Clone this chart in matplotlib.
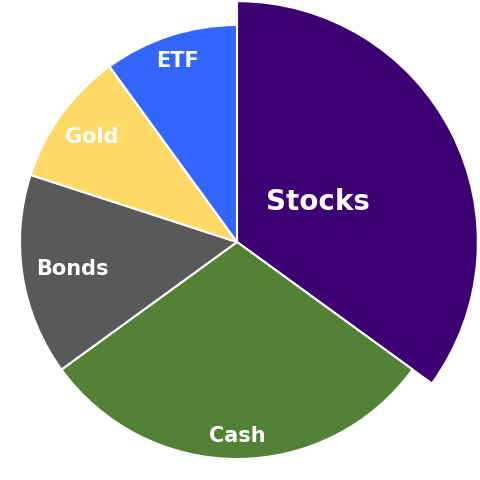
import numpy as np
import matplotlib.pyplot as plt

# Portfolio allocation (percent)
assets = ['Stocks', 'Cash', 'Bonds', 'Gold', 'ETF']
shares = [35, 30, 15, 10, 10]
colors = ['#3d0072', '#538135', '#595959', '#ffd966', '#3366ff']
label_dist = [0.42, 0.89, 0.77, 0.83, 0.88]
label_size = [20, 15, 15, 15, 15]

fig = plt.figure(figsize=(4.8, 4.81), dpi=100)
ax = fig.add_axes([0, 0, 1, 1])

wedges, _ = ax.pie(shares, colors=colors, startangle=90, counterclock=False,
                   radius=1.0, wedgeprops=dict(edgecolor='white', linewidth=1.5))
# the largest slice is drawn with a bigger radius
wedges[0].set_radius(1.11)

for w, name, d, fs in zip(wedges, assets, label_dist, label_size):
    mid = np.deg2rad((w.theta1 + w.theta2) / 2)
    ax.text(d * np.cos(mid), d * np.sin(mid), name, ha='center', va='center',
            color='white', fontsize=fs, fontweight='bold', family='DejaVu Sans')

ax.set_xlim(-237 / 217, 243 / 217)
ax.set_ylim(-238 / 217, 243 / 217)
ax.set_aspect('auto')
ax.axis('off')

plt.savefig('out.png', dpi=100, facecolor='white')
